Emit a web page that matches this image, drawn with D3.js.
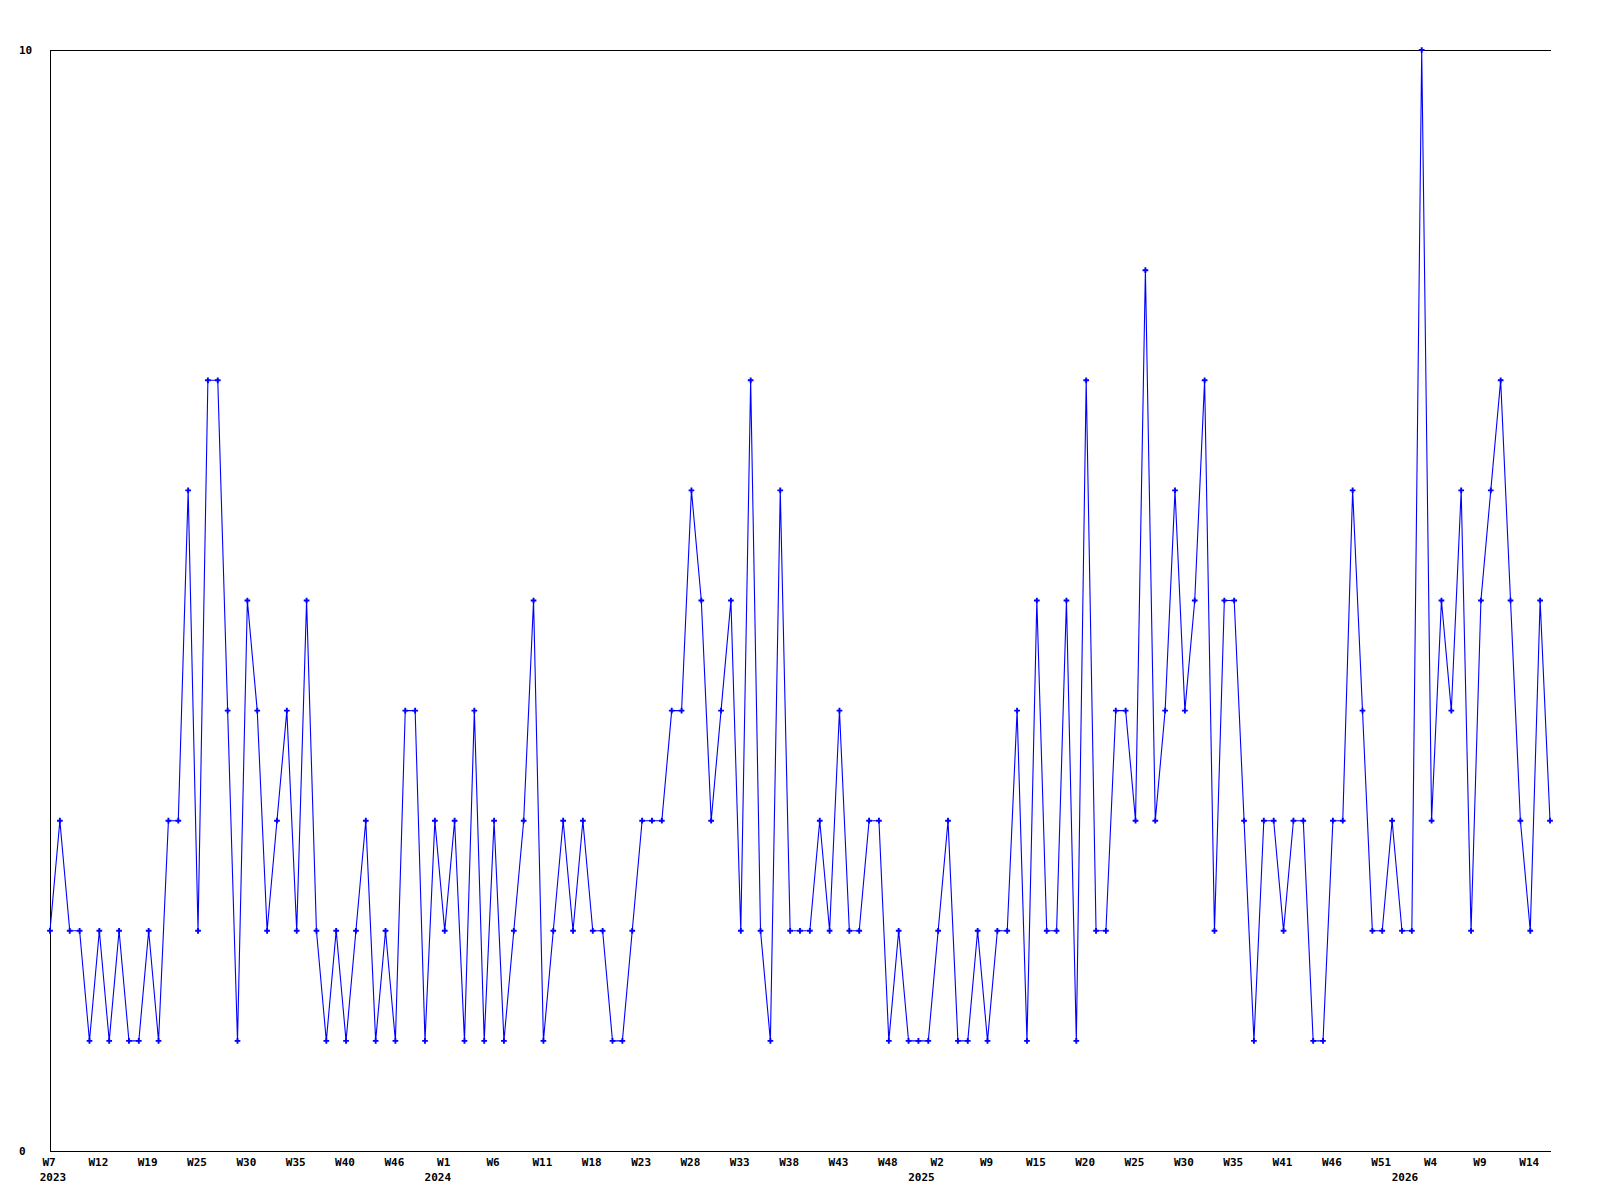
<!DOCTYPE html>
<html>
<head>
<meta charset="utf-8">
<script src="https://cdn.jsdelivr.net/npm/d3@7"></script>
<style>
  html, body { margin: 0; padding: 0; background: #ffffff; }
  svg { display: block; }
  text { font-family: "DejaVu Sans Mono", "Liberation Mono", monospace; font-weight: bold; font-size: 11px; fill: #000; }
</style>
</head>
<body>
<svg id="chart" width="1600" height="1200"></svg>
<script>
// Weekly counts (one point per week present in the data)
const values = [
  2,3,2,2,1,2,1,2,1,1,2,1,3,3,6,2,7,7,4,1,5,4,2,3,4,2,
  5,2,1,2,1,2,3,1,2,1,4,4,1,3,2,3,1,4,1,3,1,2,3,5,1,
  2,3,2,3,2,2,1,1,2,3,3,3,4,4,6,5,3,4,5,2,7,2,1,6,2,
  2,2,3,2,4,2,2,3,3,1,2,1,1,1,2,3,1,1,2,1,2,2,4,1,5,
  2,2,5,1,7,2,2,4,4,3,8,3,4,6,4,5,7,2,5,5,3,1,3,3,2,3,
  3,1,1,3,3,6,4,2,2,3,2,2,10,3,5,4,6,2,5,6,7,5,3,2,5,3
];
// Week labels shown on every 5th point
const tickStep = 5;
const weekTicks = ["W7","W12","W19","W25","W30","W35","W40","W46","W1","W6","W11",
  "W18","W23","W28","W33","W38","W43","W48","W2","W9","W15","W20","W25","W30",
  "W35","W41","W46","W51","W4","W9","W14"];
// Year labels and the index of the first point of each year
const yearLabels = ["2023","2024","2025","2026"];
const yearStartIndex = [0, 39, 88, 137];
// Y axis labels
const yTicks = [0, 10];

(function () {
  const svg = d3.select("#chart");
  const mLeft = 50, mRight = 1550, mTop = 50, mBottom = 1151;

  const x = d3.scaleLinear().domain([0, values.length - 1]).range([mLeft, mRight]);
  const y = d3.scaleLinear().domain([0, 10]).range([mBottom, mTop]);

  // frame lines
  const axisG = svg.append("g").attr("shape-rendering", "crispEdges");
  axisG.append("line").attr("x1", mLeft).attr("x2", mRight + 1).attr("y1", y(10)).attr("y2", y(10))
    .attr("stroke", "#000").attr("stroke-width", 1);
  axisG.append("line").attr("x1", mLeft).attr("x2", mRight + 1).attr("y1", y(0)).attr("y2", y(0))
    .attr("stroke", "#000").attr("stroke-width", 1);
  axisG.append("line").attr("x1", mLeft).attr("x2", mLeft).attr("y1", y(10)).attr("y2", y(0))
    .attr("stroke", "#000").attr("stroke-width", 1);

  // y labels
  svg.append("g").selectAll("text").data(yTicks).join("text")
    .attr("x", 19).attr("y", d => y(d)).attr("dy", "0.35em")
    .attr("text-anchor", "start").text(d => d);

  // x week labels
  const tickIdx = weekTicks.map((w, i) => i * tickStep);
  svg.append("g").selectAll("text").data(weekTicks).join("text")
    .attr("x", (d, i) => x(tickIdx[i]) - 1).attr("y", 1166)
    .attr("text-anchor", "middle").text(d => d);

  // year labels
  svg.append("g").selectAll("text").data(yearLabels).join("text")
    .attr("x", (d, i) => x(yearStartIndex[i]) + 3).attr("y", 1181)
    .attr("text-anchor", "middle").text(d => d);

  // line
  const line = d3.line().x((d, i) => x(i)).y(d => y(d));
  svg.append("path").datum(values).attr("d", line)
    .attr("fill", "none").attr("stroke", "#0000ff").attr("stroke-width", 1.1);

  // markers
  const cross = d3.symbol().type(d3.symbolCross).size(18);
  svg.append("g").selectAll("path").data(values).join("path")
    .attr("transform", (d, i) => `translate(${x(i)},${y(d)})`)
    .attr("d", cross).attr("fill", "#0000ff");
})();
</script>
</body>
</html>
